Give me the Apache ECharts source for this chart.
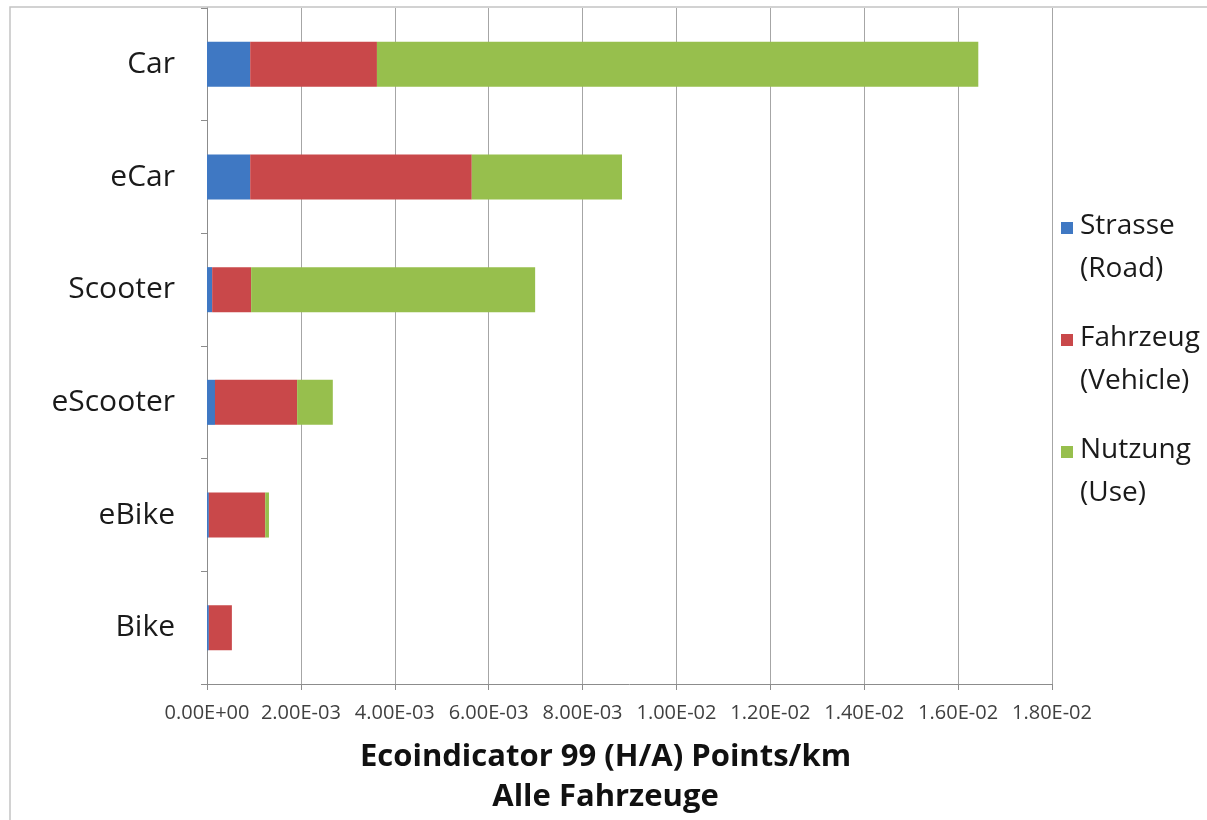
<!DOCTYPE html>
<html>
<head>
<meta charset="utf-8">
<script src="https://cdn.jsdelivr.net/npm/echarts@6/dist/echarts.min.js"></script>
<style>
html,body{margin:0;padding:0;background:#fff;}
#chart{width:1207px;height:820px;}
</style>
</head>
<body>
<div id="chart"></div>
<script>
// Categories (top to bottom as shown)
const categories = ['Car', 'eCar', 'Scooter', 'eScooter', 'eBike', 'Bike'];
// Series values (points/km)
const roadValues    = [0.00092, 0.00092, 0.00011, 0.00017, 0.00004, 0.00004];
const vehicleValues = [0.00270, 0.00472, 0.00083, 0.00175, 0.00120, 0.00049];
const useValues     = [0.01281, 0.00320, 0.00605, 0.00076, 0.00008, 0.00000];
const seriesNames = ['Strasse\n(Road)', 'Fahrzeug\n(Vehicle)', 'Nutzung\n(Use)'];
const xTickMin = 0, xTickMax = 0.018, xTickStep = 0.002;
const axisTitle = 'Ecoindicator 99 (H/A) Points/km\nAlle Fahrzeuge';

function sci(v) {
  if (Math.abs(v) < 1e-12) return '0.00E+00';
  let e = Math.floor(Math.log10(Math.abs(v)) + 1e-9);
  let m = v / Math.pow(10, e);
  if (Math.round(m * 100) / 100 >= 10) { m /= 10; e += 1; }
  const sign = e < 0 ? '-' : '+';
  const ae = Math.abs(e);
  return m.toFixed(2) + 'E' + sign + (ae < 10 ? '0' + ae : '' + ae);
}

const font = '"Open Sans", Lato, sans-serif';
const colors = ['#3f78c3', '#c9484a', '#97bf4d'];
const chart = echarts.init(document.getElementById('chart'));
const sq = 'path://M0,0h12v12h-12z M0,52h0.01v0.01h-0.01z';

const rev = a => a.slice().reverse();
const mk = (name, data, i) => ({
  name: name, type: 'bar', stack: 'total', data: rev(data),
  barCategoryGap: '60%', itemStyle: {color: colors[i]}, emphasis: {disabled: true}
});

chart.setOption({
  animation: false,
  backgroundColor: '#fff',
  color: colors,
  graphic: [{
    type: 'rect', shape: {x: 10, y: 7, width: 1210, height: 830},
    style: {fill: null, stroke: '#c4c4c4', lineWidth: 1.5}, silent: true, z: -1
  }],
  grid: {left: 207, right: 155, top: 8, bottom: 136, containLabel: false, outerBoundsMode: 'none'},
  legend: {
    orient: 'vertical', left: 1061, top: 205, padding: 0, itemGap: 26,
    itemWidth: 12, itemHeight: 52, icon: sq,
    textStyle: {fontFamily: font, fontSize: 28, color: '#1a1a1a', lineHeight: 43, padding: [0, 0, 0, 2]},
    data: seriesNames.map((n, i) => ({name: n, icon: sq, itemStyle: {color: colors[i]}}))
  },
  xAxis: {
    type: 'value', min: xTickMin, max: xTickMax, interval: xTickStep,
    axisLine: {show: true, lineStyle: {color: '#8c8c8c', width: 1}},
    axisTick: {show: true, length: 6, lineStyle: {color: '#8c8c8c'}},
    splitLine: {show: true, lineStyle: {color: '#a6a6a6', width: 1}},
    axisLabel: {formatter: sci, fontFamily: font, fontSize: 20, color: '#404040', margin: 19},
    name: axisTitle, nameLocation: 'middle', nameGap: 53,
    nameTextStyle: {fontFamily: font, fontSize: 31, fontWeight: 'bold', color: '#111', lineHeight: 40, padding: [0, 48, 0, 0]}
  },
  yAxis: {
    type: 'category', data: rev(categories),
    axisLine: {show: true, lineStyle: {color: '#8c8c8c', width: 1}},
    axisTick: {show: true, length: 6, lineStyle: {color: '#8c8c8c'}},
    axisLabel: {fontFamily: font, fontSize: 30, color: '#1a1a1a', margin: 32}
  },
  series: [
    mk(seriesNames[0], roadValues, 0),
    mk(seriesNames[1], vehicleValues, 1),
    mk(seriesNames[2], useValues, 2)
  ]
});
</script>
</body>
</html>
